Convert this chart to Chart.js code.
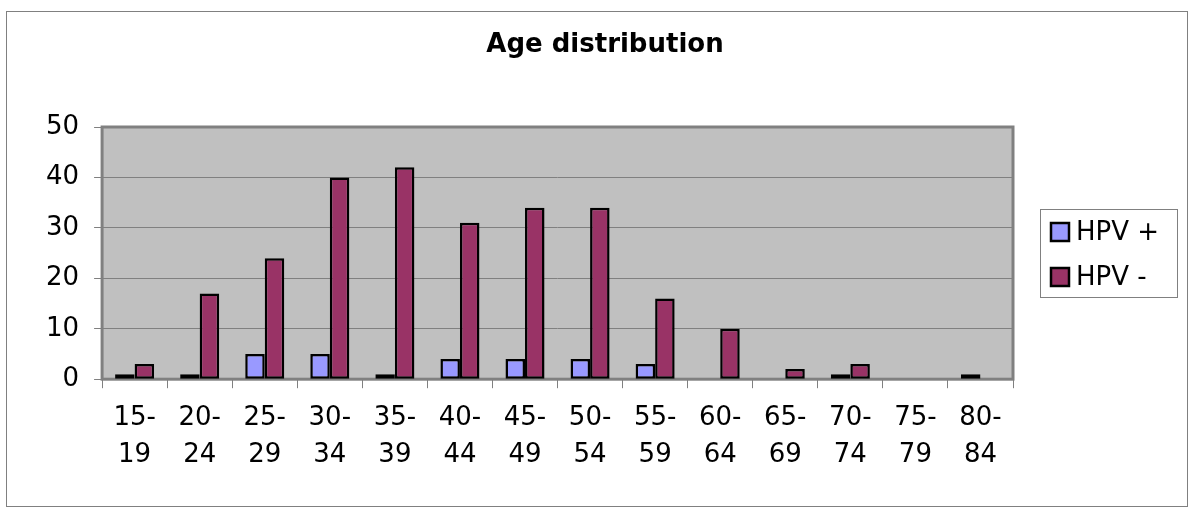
<!DOCTYPE html>
<html>
<head>
<meta charset="utf-8">
<title>Age distribution</title>
<script src="https://cdn.jsdelivr.net/npm/chart.js@4/dist/chart.umd.min.js"></script>
<style>
  html, body { margin: 0; padding: 0; background: #fff; }
  #wrap { width: 1200px; height: 518px; }
</style>
</head>
<body>
<div id="wrap"><canvas id="ageChart" width="1200" height="518"></canvas></div>
<script>
// age groups, two-line labels like the original
var ageGroups = [
  ["15-", "19"], ["20-", "24"], ["25-", "29"], ["30-", "34"], ["35-", "39"],
  ["40-", "44"], ["45-", "49"], ["50-", "54"], ["55-", "59"], ["60-", "64"],
  ["65-", "69"], ["70-", "74"], ["75-", "79"], ["80-", "84"]
];
var hpvPositive = [1, 1, 5, 5, 1, 4, 4, 4, 3, 0, 0, 1, 0, 1];
var hpvNegative = [3, 17, 24, 40, 42, 31, 34, 34, 16, 10, 2, 3, 0, 0];
var seriesNames = ["HPV +", "HPV -"];
var yTicks = [0, 10, 20, 30, 40, 50];
var chartTitle = "Age distribution";

var FONT = "'DejaVu Sans', Verdana, sans-serif";

// gray plot area, its frame, the outer frame and the title
var frame = {
  id: "frame",
  beforeDraw: function (chart) {
    var c = chart.ctx, a = chart.chartArea;
    c.save();
    c.fillStyle = "#fff";
    c.fillRect(0, 0, chart.width, chart.height);
    c.strokeStyle = "#808080";
    c.lineWidth = 1;
    c.strokeRect(6.5, 11.5, 1181, 495);
    c.fillStyle = "#c0c0c0";
    c.fillRect(a.left, a.top, a.right - a.left, a.bottom - a.top);
    // title sits over the whole frame, not just the plot
    c.fillStyle = "#000";
    c.font = "bold 26px " + FONT;
    c.textAlign = "center";
    c.textBaseline = "middle";
    c.fillText(chartTitle, 605, 45);
    c.restore();
  },
  beforeDatasetsDraw: function (chart) {
    var c = chart.ctx, a = chart.chartArea;
    c.save();
    c.strokeStyle = "#808080";
    c.lineWidth = 3;
    c.strokeRect(a.left, a.top, a.right - a.left, a.bottom - a.top);
    c.restore();
  }
};

// boxed legend on the right
var boxLegend = {
  id: "boxLegend",
  afterDraw: function (chart) {
    var c = chart.ctx;
    c.save();
    c.strokeStyle = "#808080";
    c.lineWidth = 1;
    c.strokeRect(1040.5, 209.5, 137, 88);
    c.font = "26px " + FONT;
    c.textBaseline = "middle";
    chart.data.datasets.forEach(function (ds, i) {
      var y = 222 + i * 45;
      c.fillStyle = ds.backgroundColor;
      c.fillRect(1051, y + 1, 18, 18);
      c.strokeStyle = "#000";
      c.lineWidth = 2.5;
      c.strokeRect(1051, y + 1, 18, 18);
      c.fillStyle = "#000";
      c.fillText(ds.label, 1076, y + 11);
    });
    c.restore();
  }
};

var ctx = document.getElementById("ageChart").getContext("2d");
var chart = new Chart(ctx, {
  type: "bar",
  data: {
    labels: ageGroups,
    datasets: [
      {
        label: seriesNames[0],
        data: hpvPositive,
        backgroundColor: "#9999ff",
        borderColor: "#000",
        borderWidth: 2.5,
        borderSkipped: false
      },
      {
        label: seriesNames[1],
        data: hpvNegative,
        backgroundColor: "#993366",
        borderColor: "#000",
        borderWidth: 2.5,
        borderSkipped: false
      }
    ]
  },
  options: {
    responsive: false,
    animation: false,
    devicePixelRatio: 1,
    layout: { padding: { left: 31, right: 187, top: 127, bottom: 33 } },
    datasets: { bar: { categoryPercentage: 0.6, barPercentage: 1 } },
    plugins: {
      legend: { display: false },
      tooltip: { enabled: false },
      title: { display: false }
    },
    scales: {
      x: {
        grid: {
          offset: true,
          drawOnChartArea: false,
          drawTicks: true,
          tickLength: 9,
          color: "#808080"
        },
        border: { display: false },
        ticks: {
          color: "#000",
          font: { family: FONT, size: 26, lineHeight: 1.4 },
          padding: 12,
          maxRotation: 0,
          autoSkip: false
        }
      },
      y: {
        min: 0,
        max: 50,
        afterBuildTicks: function (axis) {
          axis.ticks = yTicks.map(function (v) { return { value: v }; });
        },
        grid: { color: "#808080", tickLength: 8, lineWidth: 1 },
        border: { display: false },
        ticks: {
          color: "#000",
          font: { family: FONT, size: 26 },
          padding: 15
        }
      }
    }
  },
  plugins: [frame, boxLegend]
});
</script>
</body>
</html>
